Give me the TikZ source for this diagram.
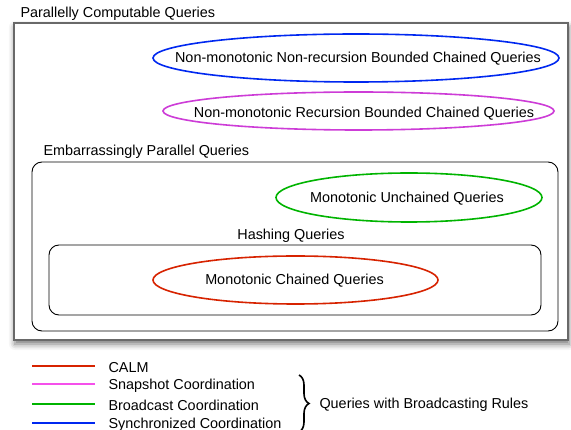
\documentclass[tikz,border=0pt]{standalone}
\usepackage{fontspec}
\setmainfont{Liberation Sans}
\usepackage[svgnames]{xcolor}
\usetikzlibrary{shadows.blur, decorations.pathreplacing}

\definecolor{CalmRed}{RGB}{215,35,0}
\definecolor{SnapPink}{RGB}{205,60,215}
\definecolor{KeyPink}{RGB}{245,80,235}
\definecolor{CastGreen}{RGB}{0,180,0}
\definecolor{SyncBlue}{RGB}{0,40,240}

\begin{document}
\begin{tikzpicture}[x=1pt, y=-1pt, font=\fontsize{14.4}{17}\selectfont,
    query/.style={line width=1.6pt},
    group/.style={draw, line width=0.9pt, rounded corners=10pt},
    key/.style={line width=1.6pt}]
    \useasboundingbox (0,0) rectangle (571,430);
    % outer frame with its shadow
    \draw[line width=1.1pt, draw=DimGray, fill=white,
        blur shadow={shadow xshift=1pt, shadow yshift=-4pt, shadow blur radius=6pt, shadow opacity=55}] (14,23) rectangle (568,340);
    \node[anchor=west] (pcq) at (17,14) {Parallelly Computable Queries};

    \draw[query, SyncBlue] (356,58) ellipse [x radius=203, y radius=24];
    \node (sync) at (358,59) {Non-monotonic Non-recursion Bounded Chained Queries};
    \draw[query, SnapPink] (358.5,111) ellipse [x radius=195.5, y radius=19];
    \node (snap) at (364,113.5) {Non-monotonic Recursion Bounded Chained Queries};

    % embarrassingly parallel and hashing queries
    \draw[group] (32,162) rectangle (558,331);
    \node[anchor=west] (epq) at (40,151.5) {Embarrassingly Parallel Queries};
    \draw[query, CastGreen] (409,197.5) ellipse [x radius=133, y radius=24.5];
    \node (cast) at (407,199) {Monotonic Unchained Queries};
    \draw[group] (49,245) rectangle (541,315);
    \node (hq) at (291,235.5) {Hashing Queries};
    \draw[query, CalmRed] (295.5,280) ellipse [x radius=142.5, y radius=24];
    \node (calm) at (294.5,280.5) {Monotonic Chained Queries};

    % legend
    \foreach \y/\c/\t [count=\i] in {366/CalmRed/CALM, 384/KeyPink/Snapshot Coordination,
        404/CastGreen/Broadcast Coordination, 423/SyncBlue/Synchronized Coordination} {
        \coordinate (k\i a) at (32,\y);
        \coordinate (k\i b) at (95,\y);
        \draw[key, \c] (k\i a) -- (k\i b);
        \node[anchor=west] (t\i) at (105,\y+1.5) {\t};
    }
    \coordinate (b1) at (299,375);
    \coordinate (b2) at (299,432);
    \draw[line width=1.6pt, decorate, decoration={brace, amplitude=10pt}] (b1) -- (b2);
    \node[anchor=west] (rules) at (316,405) {Queries with Broadcasting Rules};
\end{tikzpicture}
\end{document}
